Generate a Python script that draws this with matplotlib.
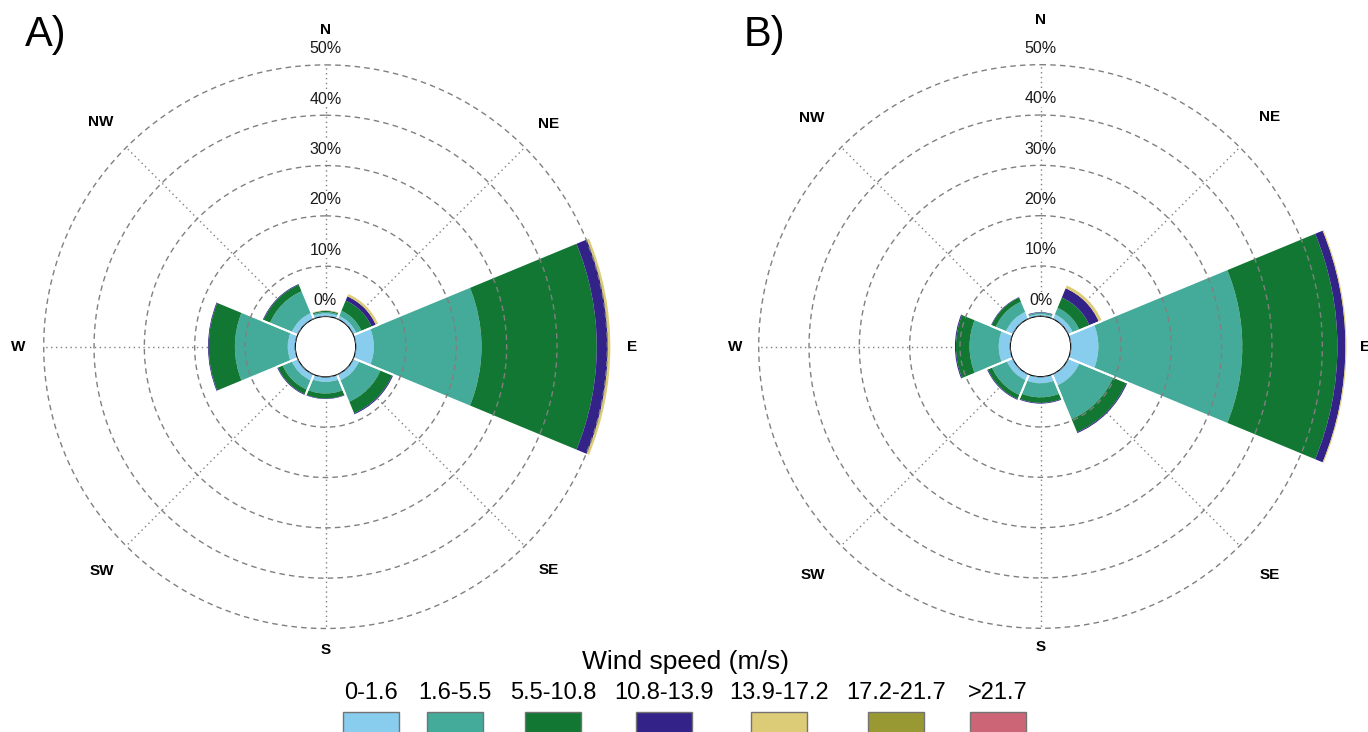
import numpy as np
import matplotlib
matplotlib.use("Agg")
import matplotlib.pyplot as plt
from matplotlib.patches import Rectangle

plt.rcParams["font.family"] = ["Liberation Sans", "DejaVu Sans"]

directions = ["N", "NE", "E", "SE", "S", "SW", "W", "NW"]
speed_bins = ["0-1.6", "1.6-5.5", "5.5-10.8", "10.8-13.9", "13.9-17.2", "17.2-21.7", ">21.7"]
bin_colors = ["#88CCEE", "#44AA99", "#117733", "#332288", "#DDCC77", "#999933", "#CC6677"]
ring_values = [0, 10, 20, 30, 40, 50]

# frequency (%) per direction, one list per wind speed bin -- panel A
a_0_1_6 = [0.6, 0.7, 3.6, 1.3, 1.0, 1.3, 1.5, 1.3]
a_1_6_5_5 = [0.3, 1.1, 21.4, 4.6, 2.3, 2.0, 10.5, 4.7]
a_5_5_10_8 = [0.2, 2.2, 22.9, 2.5, 1.0, 1.0, 5.2, 1.4]
a_10_8_13_9 = [0.05, 0.9, 2.2, 0.2, 0.1, 0.15, 0.15, 0.15]
a_13_9_17_2 = [0.1, 0.5, 0.5, 0.0, 0.0, 0.0, 0.0, 0.0]
a_17_2_21_7 = [0.0, 0.0, 0.0, 0.0, 0.0, 0.0, 0.0, 0.0]
a_over_21_7 = [0.0, 0.0, 0.0, 0.0, 0.0, 0.0, 0.0, 0.0]

# panel B
b_0_1_6 = [0.4, 1.0, 5.5, 2.4, 1.3, 1.3, 2.3, 1.5]
b_1_6_5_5 = [0.3, 1.4, 28.6, 7.3, 2.8, 3.2, 5.8, 2.2]
b_5_5_10_8 = [0.05, 2.2, 18.9, 2.8, 1.1, 0.9, 2.7, 0.9]
b_10_8_13_9 = [0.1, 2.0, 1.6, 0.2, 0.15, 0.15, 0.2, 0.1]
b_13_9_17_2 = [0.0, 0.6, 0.2, 0.0, 0.0, 0.0, 0.0, 0.0]
b_17_2_21_7 = [0.0, 0.0, 0.0, 0.0, 0.0, 0.0, 0.0, 0.0]
b_over_21_7 = [0.0, 0.0, 0.0, 0.0, 0.0, 0.0, 0.0, 0.0]

panel_a = [a_0_1_6, a_1_6_5_5, a_5_5_10_8, a_10_8_13_9, a_13_9_17_2, a_17_2_21_7, a_over_21_7]
panel_b = [b_0_1_6, b_1_6_5_5, b_5_5_10_8, b_10_8_13_9, b_13_9_17_2, b_17_2_21_7, b_over_21_7]

# layout: radius (in % units) where the compass letters sit
label_r_a = [56.9, 56.7, 54.9, 56.7, 54.2, 56.9, 55.0, 57.1]
label_r_b = [58.8, 58.5, 58.4, 58.3, 53.7, 58.1, 54.7, 58.3]

W, H = 1368, 732
R_MAX = 56
R_ORIGIN = -6
AX_PX = 624


def draw_rose(ax, freqs, label_r):
    ax.set_theta_zero_location("N")
    ax.set_theta_direction(-1)
    ax.set_ylim(0, R_MAX)
    ax.set_rorigin(R_ORIGIN)
    ax.set_xticks([])
    ax.set_yticks([])
    ax.grid(False)
    for sp in ax.spines.values():
        sp.set_visible(False)

    theta = np.radians(np.arange(len(directions)) * 45.0)
    width = np.radians(45.0)

    bottom = np.zeros(len(directions))
    for vals, color in zip(freqs, bin_colors):
        vals = np.asarray(vals, dtype=float)
        ax.bar(theta, vals, width=width, bottom=bottom, color=color,
               edgecolor="none", linewidth=0, zorder=2)
        bottom = bottom + vals

    # white separators between sectors
    for t, tot in zip(theta, bottom):
        for edge in (t - width / 2, t + width / 2):
            ax.plot([edge, edge], [0, tot], color="white", lw=1.4, zorder=2.5,
                    solid_capstyle="butt")

    # dotted spokes behind bars
    for t in theta:
        ax.plot([t, t], [0, ring_values[-1]], color="0.5", lw=1.0,
                ls=(0, (1, 2.5)), zorder=1)

    # dashed rings on top
    circ = np.linspace(0, 2 * np.pi, 721)
    for v in ring_values:
        ax.plot(circ, np.full_like(circ, v), color="0.5", lw=1.0,
                ls=(0, (4, 3)), zorder=3)
        ax.text(0, v + 3.2, f"{v}%", ha="center", va="center", fontsize=11.5,
                color="0.1", zorder=4,
                bbox=dict(boxstyle="square,pad=0.05", fc="white", ec="none"))

    for t, name, r in zip(theta, directions, label_r):
        ax.text(t, r, name, ha="center", va="center", fontsize=11,
                fontweight="bold", color="black")


fig = plt.figure(figsize=(W / 100, H / 100), dpi=100)

centers = [(325.5, 346.7), (1040.5, 346.5)]
panels = [panel_a, panel_b]
label_rs = [label_r_a, label_r_b]
letters = ["A)", "B)"]
letter_pos = [(46, 35), (764, 35)]

for (cx, cy), freqs, lr, letter, (lx, ly) in zip(centers, panels, label_rs, letters, letter_pos):
    half = AX_PX / 2
    rect = [(cx - half) / W, (H - cy - half) / H, AX_PX / W, AX_PX / H]
    ax = fig.add_axes(rect, projection="polar")
    draw_rose(ax, freqs, lr)
    fig.text(lx / W, 1 - ly / H, letter, fontsize=30, ha="center", va="center")

# legend
fig.text(685 / W, 1 - 662 / H, "Wind speed (m/s)", fontsize=19, ha="center", va="center")
legend_x = [371, 455, 553, 664, 779, 896, 998]
box_w, box_h = 56, 28
for x, lab, color in zip(legend_x, speed_bins, bin_colors):
    fig.text(x / W, 1 - 693 / H, lab, fontsize=17, ha="center", va="center")
    fig.add_artist(Rectangle(((x - box_w / 2) / W, (H - 712 - box_h) / H),
                             box_w / W, box_h / H, transform=fig.transFigure,
                             facecolor=color, edgecolor="0.45", lw=1.0))

fig.savefig("out.png", dpi=100)
